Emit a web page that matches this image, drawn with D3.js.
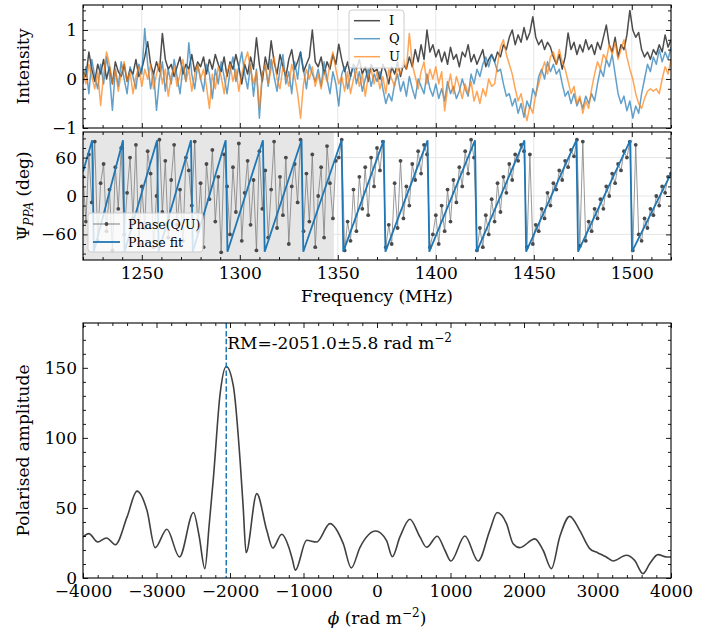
<!DOCTYPE html>
<html><head><meta charset="utf-8">
<script src="https://cdn.jsdelivr.net/npm/d3@7"></script>
<style>body{margin:0;background:#fff;} svg{display:block;font-family:"DejaVu Serif",serif;}</style>
</head><body><svg id="c" width="716" height="634"></svg>
<script>
// ---------------- DATA ----------------
const freqStart = 1220, freqStep = 1.5;   // channel frequencies (MHz)
const stokesI = [
0.15,0.05,0.55,0.2,-0.05,0.3,0.1,0.4,0.0,0.25,-0.1,0.35,0.15,0.05,0.3,-0.05,0.2,0.1,0.4,0.05,
0.2,0.45,0.76,0.3,0.1,0.35,0.15,0.93,0.4,0.2,0.3,0.05,0.25,0.45,0.1,0.3,0.2,0.5,0.15,0.35,
0.25,0.45,0.1,0.4,0.2,0.5,0.3,0.15,0.45,0.05,0.35,0.2,0.5,0.25,-0.1,0.3,0.1,0.45,0.2,0.84,
0.3,-0.05,0.45,0.2,0.78,0.35,0.1,0.5,0.25,0.05,0.4,0.6,0.2,0.35,0.55,0.15,0.3,0.45,1.0,0.35,
0.25,0.45,0.1,0.35,0.2,0.5,0.3,0.71,0.4,0.15,0.35,0.05,0.3,0.2,0.4,0.1,0.25,-0.05,0.3,0.15,
0.2,0.0,0.3,0.15,-0.1,0.25,0.1,0.35,0.05,0.3,0.2,0.45,0.25,0.6,0.35,0.7,0.4,1.0,0.55,0.7,
0.45,0.6,0.35,0.55,0.3,0.65,0.4,0.5,0.25,0.55,0.45,0.7,0.35,0.5,0.3,0.45,0.6,0.25,0.4,0.5,
0.35,0.55,0.45,0.7,0.6,0.85,1.0,0.7,0.9,0.75,1.05,0.8,0.95,1.27,0.85,0.7,0.8,0.6,0.75,0.65,
0.45,0.3,0.5,0.2,0.45,0.94,0.6,0.75,0.5,0.7,0.55,0.8,0.6,0.7,0.5,0.75,0.6,0.85,1.1,0.7,
0.55,0.85,0.45,0.7,0.6,0.9,1.4,1.0,0.85,0.95,0.6,0.45,0.55,0.4,0.6,0.5,0.7,0.55,0.9,0.65,0.8];
const stokesQ = [
-0.1,0.25,-0.3,0.4,0.05,-0.2,0.3,-0.1,0.45,0.1,-0.64,0.2,-0.15,0.35,0.0,-0.3,0.25,0.05,-0.2,0.3,
0.1,1.03,0.3,-0.2,0.15,-0.64,0.0,0.35,-0.25,0.2,-0.1,0.4,0.05,-0.3,0.25,-0.05,0.74,0.1,-0.2,0.3,
0.0,-0.25,0.3,0.1,-0.4,0.2,-0.1,0.35,0.05,-0.3,0.15,0.45,-0.05,0.25,0.55,0.1,-0.2,0.3,-0.35,0.2,
-0.8,0.1,0.3,-0.15,0.4,0.05,-0.25,0.2,0.5,-0.1,0.15,-0.3,0.35,0.0,0.55,0.2,-0.2,0.3,0.1,-0.05,
0.2,-0.15,0.35,0.0,-0.3,0.15,-0.1,-0.55,0.1,0.25,-0.2,0.05,0.3,-0.1,0.15,-0.25,0.0,0.2,-0.15,0.1,
-0.05,0.15,-0.2,-0.5,-0.3,-0.45,-0.1,0.1,-0.25,-0.05,-0.35,0.05,-0.2,-0.4,0.0,-0.15,-0.3,0.1,-0.2,-0.35,
-0.1,-0.4,-0.2,-0.45,-0.05,-0.3,-0.15,-0.4,-0.25,0.0,-0.2,-0.35,0.1,-0.1,0.2,0.05,0.3,0.45,0.25,0.5,
0.35,0.15,0.2,-0.1,-0.35,-0.3,-0.55,-0.4,-0.7,-0.5,-0.78,-0.45,-0.6,-0.2,-0.35,0.05,0.2,0.0,0.35,0.15,
0.3,0.1,0.2,-0.1,-0.35,-0.25,-0.5,-0.3,-0.55,-0.4,-0.6,-0.35,-0.5,-0.3,-0.45,-0.1,0.2,0.05,0.4,0.25,
0.5,0.1,-0.3,-0.5,-0.35,-0.65,-0.45,-0.8,-0.55,-0.7,-0.3,0.0,0.3,0.15,0.45,0.3,0.6,0.35,0.55,0.4,0.65];
const stokesU = [
0.2,-0.1,0.3,0.05,-0.2,0.15,-0.54,0.1,0.55,0.3,-0.1,0.2,-0.25,0.1,0.35,-0.05,0.15,-0.3,0.05,0.25,
-0.15,0.2,0.0,0.3,-0.2,0.1,0.35,-0.1,0.2,-0.35,0.05,0.25,-0.15,0.1,0.4,-0.05,0.2,-0.25,0.1,0.3,
0.0,0.2,-0.15,-0.6,0.1,-0.2,0.25,0.05,-0.3,0.15,0.3,-0.05,0.2,-0.25,0.1,0.35,0.55,0.2,-0.1,0.15,
-0.6,0.1,0.3,-0.1,0.2,0.45,0.0,-0.2,0.25,0.1,-0.15,0.3,0.05,-0.3,-0.8,-0.1,0.2,0.0,0.25,-0.15,
0.1,-0.2,0.15,-0.05,0.3,0.55,0.2,-0.1,0.05,-0.25,0.15,-0.3,0.0,0.2,-0.15,0.1,-0.35,0.05,0.2,-0.1,
0.15,-0.2,0.05,-0.3,0.2,0.0,-0.15,0.25,0.1,0.4,0.2,0.93,0.3,0.05,-0.2,0.15,0.35,-0.1,0.2,0.0,
0.25,-0.1,0.15,-0.65,-0.2,0.1,-0.3,0.05,-0.15,-0.4,-0.1,-0.3,-0.05,-0.45,-0.25,-0.5,-0.2,-0.35,0.0,-0.15,
-0.1,0.3,0.65,0.8,0.5,0.3,0.1,-0.2,-0.45,-0.3,-0.6,-0.85,-0.55,-0.7,-0.3,-0.1,0.15,0.35,0.1,0.45,
0.55,0.3,0.6,0.35,0.2,-0.05,-0.3,-0.15,-0.5,-0.35,-0.7,-0.45,-0.6,-0.2,0.1,0.35,0.2,0.5,0.4,0.7,
0.5,0.75,0.4,0.6,0.8,0.45,0.2,0.0,-0.3,-0.5,-0.6,-0.4,-0.25,-0.2,-0.25,-0.2,-0.3,0.0,0.25,0.1,0.4];
const phaseDeg = [
30,-40,65,-10,85,-70,20,50,-55,10,-85,45,-20,75,-60,5,60,-35,80,-75,
15,-50,70,35,-80,0,88,-25,55,-65,25,80,-45,10,-70,60,40,-15,85,-55,
20,-80,50,-5,72,-40,30,-88,65,15,-60,45,-25,82,-70,5,55,-45,25,-85,
70,-20,40,-65,10,85,-50,30,-30,60,-75,15,50,-10,88,-55,35,-40,65,-80,
0,45,-65,78,20,-35,55,60,88,-85,-40,-70,10,-55,30,-20,45,-30,60,15,
75,40,85,-80,-45,-75,20,-50,55,-35,15,-15,50,25,70,35,80,65,-80,-60,
-30,-75,-15,-55,10,-40,25,-10,45,15,70,35,88,60,-85,-50,-80,-30,-60,-5,
-40,20,-25,30,5,50,25,65,55,80,70,-80,65,-75,-45,-55,-20,-35,5,-15,
20,10,40,25,55,45,72,62,88,-78,85,-70,-40,-55,-20,-35,-5,-20,15,0,
35,20,50,40,70,60,85,-85,80,-60,-70,-35,-50,-20,-30,0,-15,15,5,30,35];
// phase-fit sawtooth vertices
const fitFreq = [1220,1224.7,1225.5,1240.4,1241.2,1257.8,1258.6,1275.1,1276.0,1292.8,1293.7,1311.8,1312.7,1331.5,1332.4,1351.9,1352.8,1373.4,1374.3,1395.8,1396.7,1420.0,1420.9,1445.2,1446.1,1471.7,1472.6,1499.2,1500.1,1520];
const fitDeg  = [38,87,-87,87,-87,87,-87,87,-87,87,-87,87,-87,87,-87,87,-87,87,-87,87,-87,87,-87,87,-87,87,-87,87,-87,35];
const maskedRange = [1220, 1348];
// RM synthesis spectrum
const rmPhi = [-4000,-3920,-3800,-3680,-3560,-3400,-3266,-3130,-3018,-2859,-2687,-2497,-2420,-2342,-2283,-2225,-2134,-2051,-1954,-1863,-1820,-1781,-1636,-1500,-1418,-1296,-1200,-1150,-1111,-957,-821,-640,-459,-350,-231,-20,130,208,312,448,584,675,820,924,1005,1196,1377,1535,1635,1762,1852,1943,2147,2260,2373,2486,2622,2758,2894,3007,3120,3211,3392,3505,3619,3710,3823,3937,4000];
const rmAmp = [29.3,31.7,25.7,28.6,23.8,43.6,62,48.3,21.7,34.8,15,46.7,30,6.7,38,72,131.7,151,136.9,84.1,50,18.1,60.2,34,21.4,31.2,22,13,5.5,26.9,25.7,38.8,24.5,7.2,21.9,33.5,26.7,15.2,29.3,41.9,29.3,21.9,29.8,19.8,12.1,30,12.1,34,46.7,38.8,24.5,21.7,27.9,19.8,6.7,29.3,44,34,21,17.9,15,12.1,16.2,12.6,3.1,10.2,16.7,15,15];
const rmValue = -2051.0, rmErr = 5.8;
// ticks
const freqTicks = [1250,1300,1350,1400,1450,1500];
const intTicks = [-1,0,1];
const phaseTicks = [-60,0,60];
const phiTicks = [-4000,-3000,-2000,-1000,0,1000,2000,3000,4000];
const ampTicks = [0,50,100,150];

// ---------------- LAYOUT ----------------
const svg = d3.select('#c');
const L = 83, R = 671;
const P1 = {top:5, bottom:128}, P2 = {top:132, bottom:260}, P3 = {top:323, bottom:578};
const FS = 17;
const xF = d3.scaleLinear().domain([1220,1520]).range([L,R]);
const y1 = d3.scaleLinear().domain([-1,1.51]).range([P1.bottom,P1.top]);
const y2 = d3.scaleLinear().domain([-100,100]).range([P2.bottom,P2.top]);
const x3 = d3.scaleLinear().domain([-4000,4000]).range([L,R]);
const y3 = d3.scaleLinear().domain([0,182]).range([P3.bottom,P3.top]);
const freqs = stokesI.map((_, i) => freqStart + freqStep * i);

const defs = svg.append('defs');
function clip(id, top, bottom){
  defs.append('clipPath').attr('id', id).append('rect').attr('x', L).attr('y', top).attr('width', R-L).attr('height', bottom-top);
}
clip('c1',P1.top,P1.bottom); clip('c2',P2.top,P2.bottom); clip('c3',P3.top,P3.bottom);

function grid(xs, ys, top, bottom, xv, yv){
  const g = svg.append('g').attr('stroke','#e6e6e6').attr('stroke-width',1);
  xv.forEach(v => g.append('line').attr('x1',xs(v)).attr('x2',xs(v)).attr('y1',top).attr('y2',bottom));
  yv.filter(v => ys(v) > top && ys(v) < bottom).forEach(v => g.append('line').attr('x1',L).attr('x2',R).attr('y1',ys(v)).attr('y2',ys(v)));
}

function axes(xs, ys, top, bottom, o){
  const g = svg.append('g');
  const add = (tr, ax) => {
    const a = g.append('g').attr('transform', tr).call(ax);
    a.attr('font-family', null).attr('font-size', null);
    a.select('.domain').remove();
    a.selectAll('line').attr('stroke','#000').attr('stroke-width',0.9);
    a.selectAll('text').attr('font-size', FS).attr('fill','#000');
  };
  add(`translate(0,${bottom})`, d3.axisBottom(xs).tickValues(o.xMajor).tickSize(-5).tickPadding(7).tickFormat(o.xLabels ? d3.format('d') : ''));
  add(`translate(0,${bottom})`, d3.axisBottom(xs).tickValues(o.xMinor).tickSize(-3).tickFormat(''));
  add(`translate(0,${top})`, d3.axisTop(xs).tickValues(o.xMajor).tickSize(-5).tickFormat(''));
  add(`translate(0,${top})`, d3.axisTop(xs).tickValues(o.xMinor).tickSize(-3).tickFormat(''));
  add(`translate(${L},0)`, d3.axisLeft(ys).tickValues(o.yMajor).tickSize(-5).tickPadding(6).tickFormat(d3.format('d')));
  add(`translate(${L},0)`, d3.axisLeft(ys).tickValues(o.yMinor).tickSize(-3).tickFormat(''));
  add(`translate(${R},0)`, d3.axisRight(ys).tickValues(o.yMajor).tickSize(-5).tickFormat(''));
  add(`translate(${R},0)`, d3.axisRight(ys).tickValues(o.yMinor).tickSize(-3).tickFormat(''));
  svg.append('rect').attr('x',L).attr('y',top).attr('width',R-L).attr('height',bottom-top)
    .attr('fill','none').attr('stroke','#000').attr('stroke-width',1.1);
}

// ---------------- PANEL 1: I, Q, U ----------------
grid(xF, y1, P1.top, P1.bottom, freqTicks, intTicks);
const lineF = (arr, ys) => d3.line().x((d,i) => xF(freqs[i])).y(d => ys(d))(arr);
const series = [
  {name:'I', data:stokesI, color:'#000000'},
  {name:'Q', data:stokesQ, color:'#1f77b4'},
  {name:'U', data:stokesU, color:'#ff7f0e'}
];
const g1 = svg.append('g').attr('clip-path','url(#c1)');
series.forEach(s => g1.append('path').attr('d', lineF(s.data, y1)).attr('fill','none')
  .attr('stroke', s.color).attr('stroke-opacity',0.7).attr('stroke-width',1.5).attr('stroke-linejoin','round'));
const minorF = d3.range(1220,1521,10).filter(v => v % 50 !== 0);
axes(xF, y1, P1.top, P1.bottom, {xMajor:freqTicks, xMinor:minorF, xLabels:false, yMajor:intTicks,
  yMinor:[-0.8,-0.6,-0.4,-0.2,0.2,0.4,0.6,0.8,1.2,1.4]});
// legend 1
const lg1 = svg.append('g');
lg1.append('rect').attr('x',349).attr('y',10).attr('width',55).attr('height',58).attr('rx',3)
  .attr('fill','#fff').attr('fill-opacity',0.8).attr('stroke','#cccccc').attr('stroke-width',1);
series.forEach((s,k) => {
  const yy = 20.7 + k*18;
  lg1.append('line').attr('x1',354).attr('x2',380).attr('y1',yy).attr('y2',yy)
    .attr('stroke',s.color).attr('stroke-opacity',0.7).attr('stroke-width',1.5);
  lg1.append('text').attr('x',389).attr('y',yy+4.5).attr('font-size',13).text(s.name);
});
svg.append('text').attr('transform',`translate(29,${(P1.top+P1.bottom)/2}) rotate(-90)`)
  .attr('text-anchor','middle').attr('font-size',FS).text('Intensity');

// ---------------- PANEL 2: phase ----------------
svg.append('rect').attr('x',xF(maskedRange[0])).attr('y',P2.top).attr('width',xF(maskedRange[1])-xF(maskedRange[0]))
  .attr('height',P2.bottom-P2.top).attr('fill','#808080').attr('fill-opacity',0.2);
grid(xF, y2, P2.top, P2.bottom, freqTicks, phaseTicks);
const g2 = svg.append('g').attr('clip-path','url(#c2)');
g2.append('path').attr('d', lineF(phaseDeg, y2)).attr('fill','none').attr('stroke','#808080')
  .attr('stroke-opacity',0.8).attr('stroke-width',1);
g2.selectAll('circle.ph').data(phaseDeg).enter().append('circle')
  .attr('cx',(d,i) => xF(freqs[i])).attr('cy', d => y2(d)).attr('r',1.9).attr('fill','#4a4a4a');
g2.append('path').attr('d', d3.line().x((d,i)=>xF(fitFreq[i])).y(d=>y2(d))(fitDeg))
  .attr('fill','none').attr('stroke','#1f77b4').attr('stroke-width',1.8);
axes(xF, y2, P2.top, P2.bottom, {xMajor:freqTicks, xMinor:minorF, xLabels:true, yMajor:phaseTicks,
  yMinor:[-90,-75,-45,-30,-15,15,30,45,75,90]});
// legend 2
const lg2 = svg.append('g');
lg2.append('rect').attr('x',88).attr('y',213).attr('width',115).attr('height',39).attr('rx',3)
  .attr('fill','#fff').attr('fill-opacity',0.8).attr('stroke','#cccccc').attr('stroke-width',1);
lg2.append('line').attr('x1',93).attr('x2',120).attr('y1',224).attr('y2',224).attr('stroke','#808080').attr('stroke-width',1);
lg2.append('circle').attr('cx',106.5).attr('cy',224).attr('r',1.9).attr('fill','#4a4a4a');
lg2.append('text').attr('x',128).attr('y',228.5).attr('font-size',12.5).text('Phase(Q/U)');
lg2.append('line').attr('x1',93).attr('x2',120).attr('y1',242).attr('y2',242).attr('stroke','#1f77b4').attr('stroke-width',1.8);
lg2.append('text').attr('x',128).attr('y',246.5).attr('font-size',12.5).text('Phase fit');
const psi = svg.append('text').attr('transform',`translate(29,${(P2.top+P2.bottom)/2}) rotate(-90)`)
  .attr('text-anchor','middle').attr('font-size',FS);
psi.append('tspan').text('Ψ');
psi.append('tspan').attr('font-size',12).attr('font-style','italic').attr('dy',4).text('PPA');
psi.append('tspan').attr('dy',-4).text(' (deg)');
svg.append('text').attr('x',(L+R)/2).attr('y',302).attr('text-anchor','middle').attr('font-size',FS).text('Frequency (MHz)');

// ---------------- PANEL 3: RM spectrum ----------------
const g3 = svg.append('g').attr('clip-path','url(#c3)');
g3.append('path').attr('d', d3.line().curve(d3.curveMonotoneX).x((d,i)=>x3(rmPhi[i])).y(d=>y3(d))(rmAmp))
  .attr('fill','none').attr('stroke','#404040').attr('stroke-width',1.6);
g3.append('line').attr('x1',x3(rmValue)).attr('x2',x3(rmValue)).attr('y1',P3.top).attr('y2',P3.bottom)
  .attr('stroke','#1f77b4').attr('stroke-width',1.5).attr('stroke-dasharray','5.5,2.4');
axes(x3, y3, P3.top, P3.bottom, {xMajor:phiTicks, xMinor:d3.range(-4000,4001,200).filter(v=>v%1000!==0), xLabels:true,
  yMajor:ampTicks, yMinor:d3.range(10,181,10).filter(v=>v%50!==0)});
const rmText = svg.append('text').attr('x',x3(rmValue)+1).attr('y',y3(163.5)).attr('font-size',FS);
rmText.append('tspan').text(`RM=${rmValue.toFixed(1)}±${rmErr} rad m`);
rmText.append('tspan').attr('dy',-7).attr('font-size',12).text('−2');
svg.append('text').attr('transform',`translate(29,${(P3.top+P3.bottom)/2}) rotate(-90)`)
  .attr('text-anchor','middle').attr('font-size',FS).text('Polarised amplitude');
const phiLab = svg.append('text').attr('x',(L+R)/2).attr('y',624).attr('text-anchor','middle').attr('font-size',FS);
phiLab.append('tspan').attr('font-style','italic').text('ϕ');
phiLab.append('tspan').text(' (rad m');
phiLab.append('tspan').attr('dy',-7).attr('font-size',12).text('−2');
phiLab.append('tspan').attr('dy',7).text(')');
</script></body></html>
